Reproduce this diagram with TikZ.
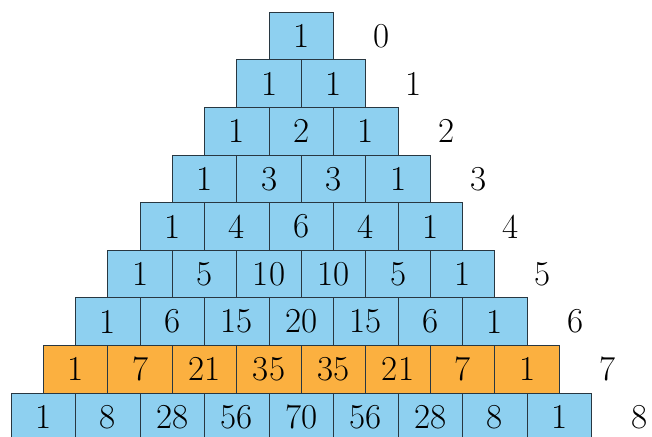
\documentclass[tikz,border=0pt]{standalone}
\definecolor{boxblue}{RGB}{142,208,240}
\definecolor{boxorange}{RGB}{251,176,64}
\definecolor{boxline}{RGB}{40,55,65}
\begin{document}
\begin{tikzpicture}[x=1pt,y=-1pt,
  cellbase/.style={draw=boxline, line width=1pt, minimum width=64.5pt, minimum height=47.6pt, inner sep=0pt, font=\fontsize{35}{40}\selectfont},
  cellblue/.style={cellbase, fill=boxblue},
  cellorange/.style={cellbase, fill=boxorange},
  rowlabel/.style={font=\fontsize{35}{40}\selectfont, inner sep=0pt}]
\useasboundingbox (0,0) rectangle (652,436);
\clip (0,0) rectangle (652,436);
\foreach \r/\vals/\st in {0/{1}/cellblue,1/{1,1}/cellblue,2/{1,2,1}/cellblue,3/{1,3,3,1}/cellblue,4/{1,4,6,4,1}/cellblue,5/{1,5,10,10,5,1}/cellblue,6/{1,6,15,20,15,6,1}/cellblue,7/{1,7,21,35,35,21,7,1}/cellorange,8/{1,8,28,56,70,56,28,8,1}/cellblue}{
  \foreach \v [count=\i from 0] in \vals {
    \node[\st] (c-\r-\i) at ({301.3 - \r*32.25 + \i*64.5}, {36.1 + \r*47.6}) {\v};
  }
  \node[rowlabel] (lab-\r) at ({301.3 + (\r+1)*32.25 + 48}, {36.1 + \r*47.6}) {\r};
}
\end{tikzpicture}
\end{document}
